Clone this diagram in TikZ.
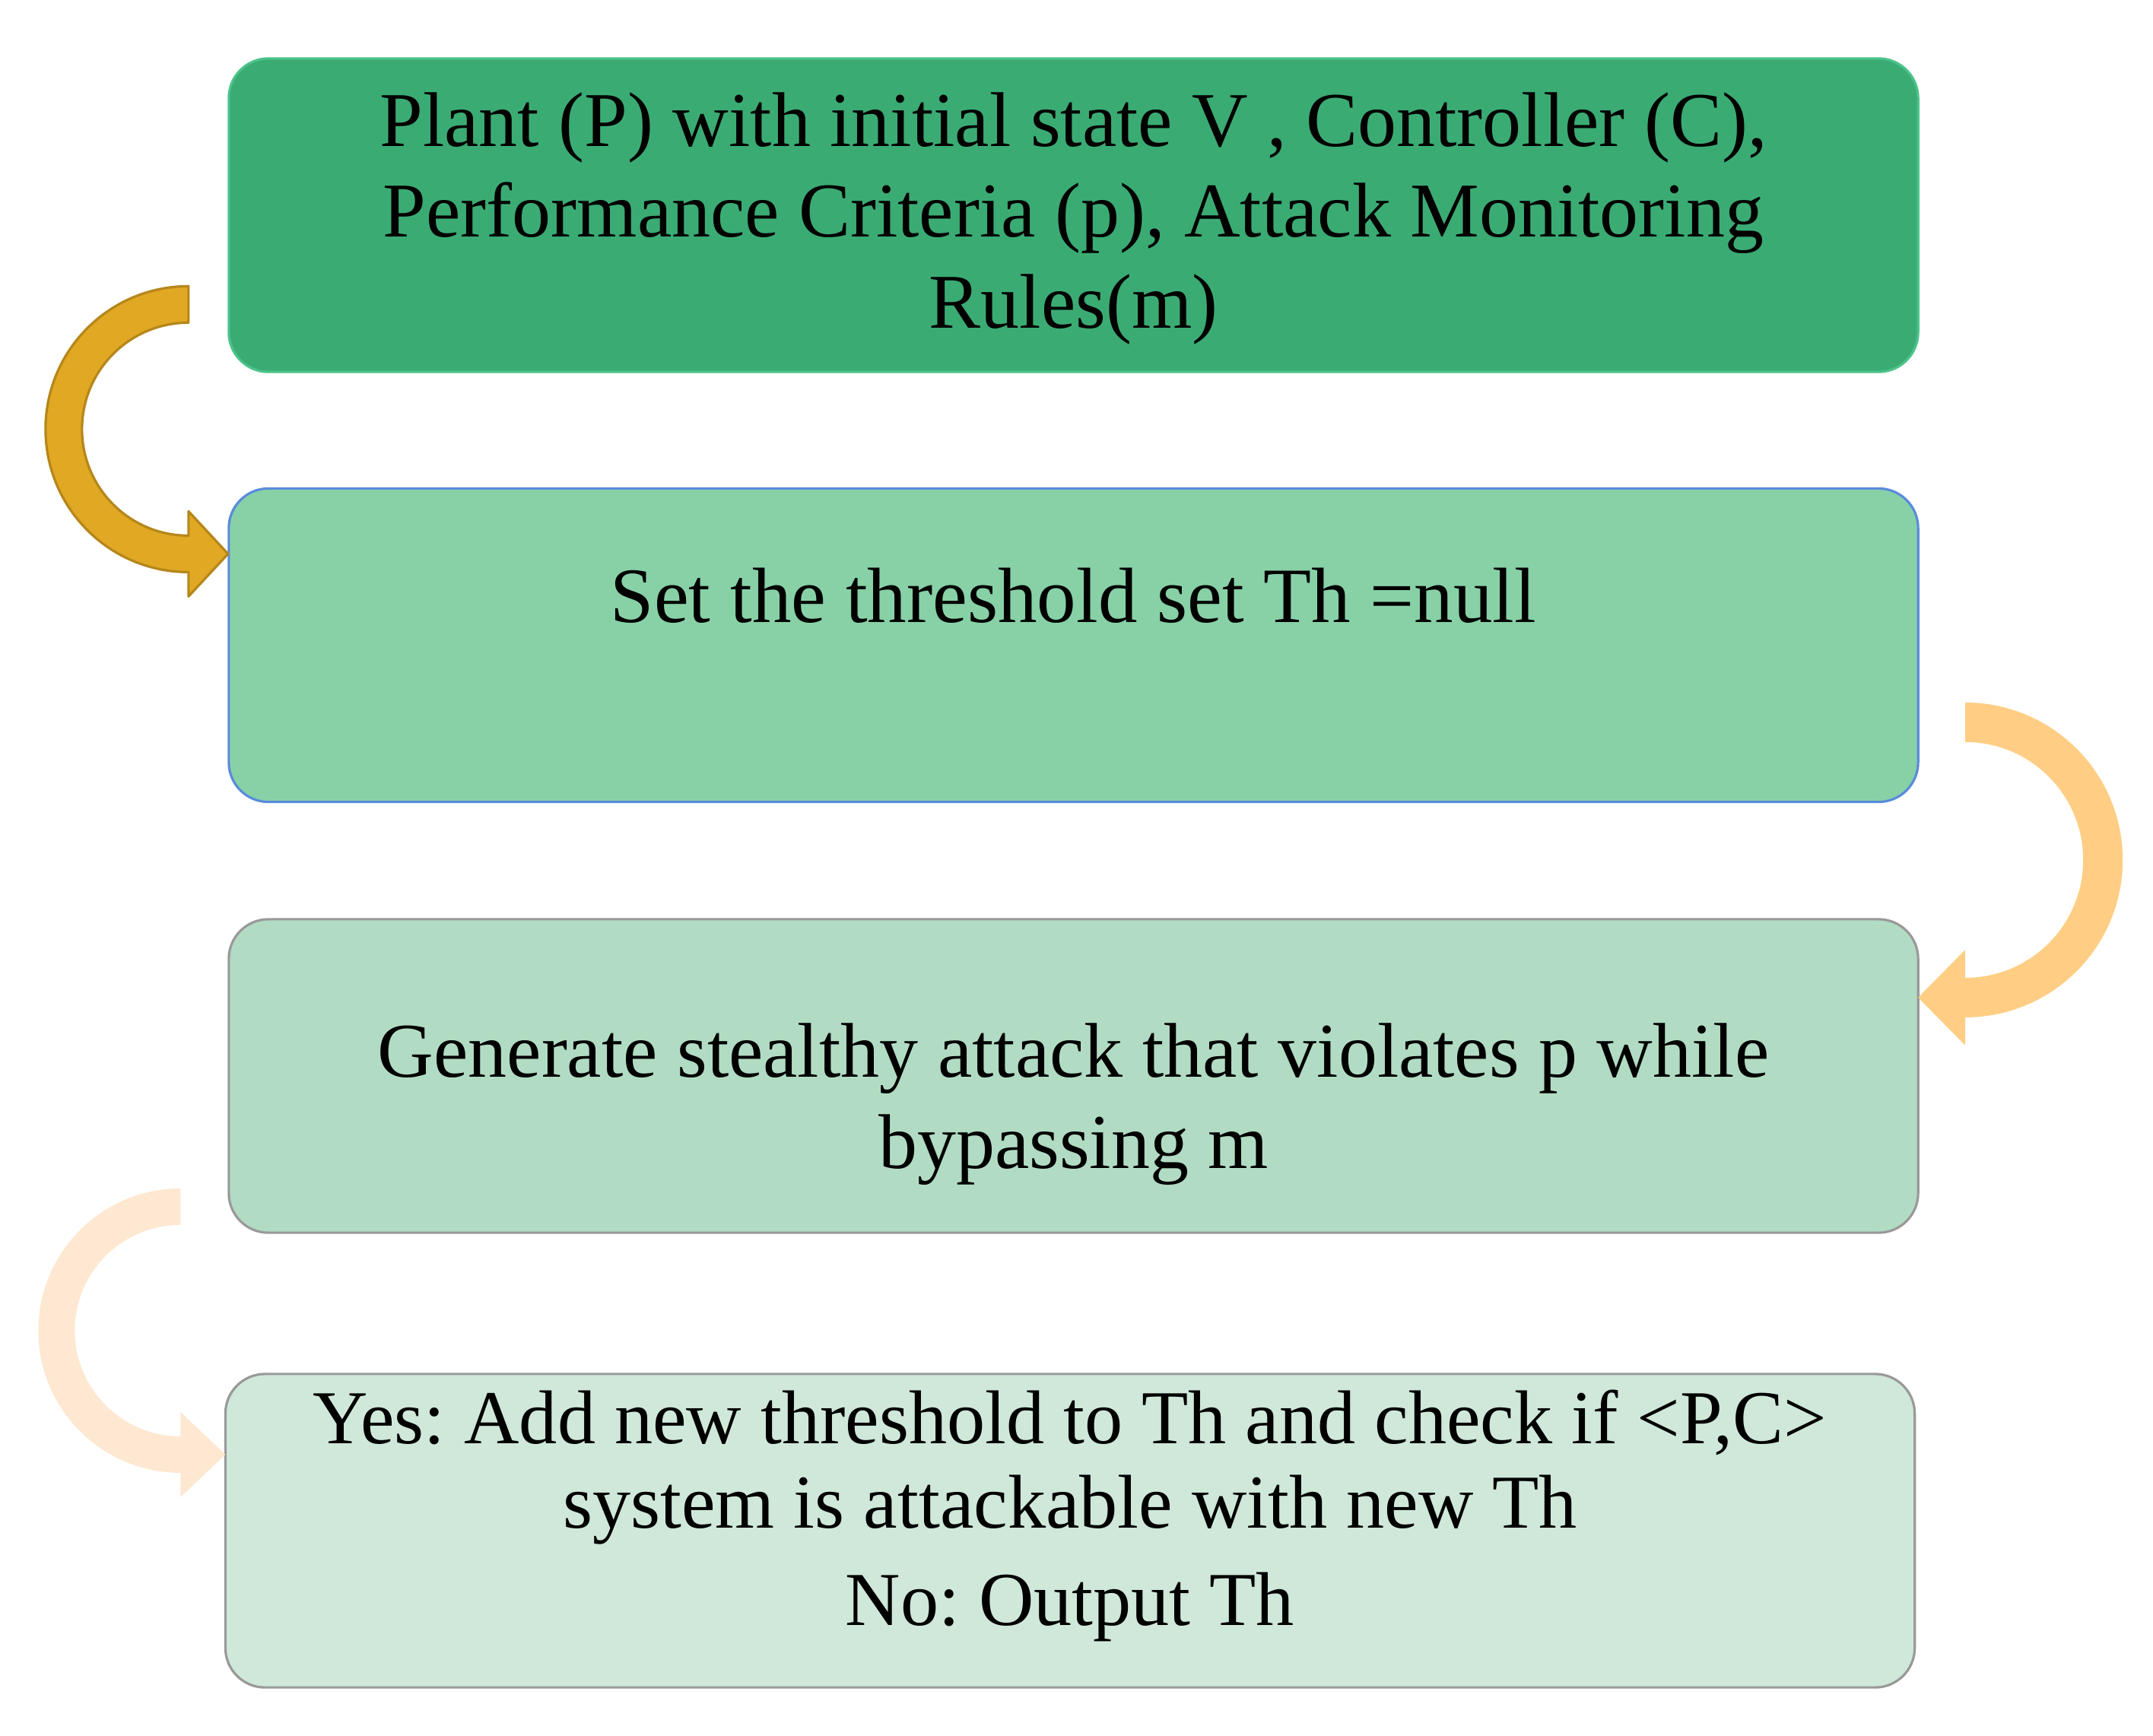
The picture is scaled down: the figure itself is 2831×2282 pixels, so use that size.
\documentclass[tikz,border=0pt]{standalone}
\usepackage{fontspec}
\setmainfont{Liberation Serif}
\usetikzlibrary{calc}
\frenchspacing
\definecolor{boxone}{HTML}{3BAB74}
\definecolor{boxoneline}{HTML}{4CC38A}
\definecolor{boxtwo}{HTML}{88D1A7}
\definecolor{boxtwoline}{HTML}{5A8BDB}
\definecolor{boxthree}{HTML}{B1DCC3}
\definecolor{boxfour}{HTML}{CFE8D9}
\definecolor{boxgrey}{HTML}{999999}
\definecolor{arrowone}{HTML}{E0A823}
\definecolor{arrowoneline}{HTML}{B5861A}
\definecolor{arrowtwo}{HTML}{FFCE84}
\definecolor{arrowthree}{HTML}{FEE8D1}
\begin{document}
\begin{tikzpicture}[x=0.01cm,y=-0.01cm,line join=round,
  box/.style={rounded corners=0.52cm,minimum width=22.2cm,minimum height=4.12cm,line width=0.9pt,inner sep=0pt,outer sep=0pt},
  txt/.style={align=center,anchor=base,inner sep=0pt,font=\fontsize{29}{34.1}\selectfont}]
  \useasboundingbox (0,0) rectangle (2831,2282);
  \node[box,fill=boxone,draw=boxoneline] (b1) at (1411.5,283) {};
  \node[box,fill=boxtwo,draw=boxtwoline] (b2) at (1411.5,848.5) {};
  \node[box,fill=boxthree,draw=boxgrey] (b3) at (1411.5,1415) {};
  \node[box,fill=boxfour,draw=boxgrey] (b4) at (1407,2013) {};
  % base of a multi-line node = its last line
  \node[txt] (t1) at ($(b1.north)+(0,355)$) {Plant (P) with initial state V , Controller (C),\\Performance Criteria (p), Attack Monitoring\\Rules(m)};
  \node[txt,font=\fontsize{29.3}{34.1}\selectfont] (t2) at ($(b2.north)+(0,176)$) {Set the threshold set Th =null};
  \node[txt] (t3) at ($(b3.north)+(0,328)$) {Generate stealthy attack that violates p while\\bypassing m};
  \node[txt,font=\fontsize{28.5}{34.1}\selectfont] (t4) at ($(b4.north)+(0,331)$) {Yes: Add new threshold to Th and check if <P,C>\\[-0.08cm]system is attackable with new Th\\[0.08cm]No: Output Th};
  % curved block arrows
  \coordinate (c1) at ($(b2.north west)+(-53,-78)$);
  \coordinate (c2) at ($(b3.north east)+(62,-78)$);
  \coordinate (c3) at ($(b4.north west)+(-59,-57)$);
  \filldraw[fill=arrowone,draw=arrowoneline,line width=0.9pt] ($(c1)+(0,-188)$) arc[start angle=270,end angle=90,radius=188]
    -- ($(c1)+(0,220)$) -- ($(c1)+(52,164)$) -- ($(c1)+(0,108)$) -- ($(c1)+(0,140)$)
    arc[start angle=90,end angle=270,radius=140] -- cycle;
  \fill[arrowtwo] ($(c2)+(0,-207)$) arc[start angle=-90,end angle=90,radius=207]
    -- ($(c2)+(0,244)$) -- ($(c2)+(-62,181)$) -- ($(c2)+(0,118)$) -- ($(c2)+(0,155)$)
    arc[start angle=90,end angle=-90,radius=155] -- cycle;
  \fill[arrowthree] ($(c3)+(0,-187)$) arc[start angle=270,end angle=90,radius=187]
    -- ($(c3)+(0,219)$) -- ($(c3)+(59,163)$) -- ($(c3)+(0,107)$) -- ($(c3)+(0,139)$)
    arc[start angle=90,end angle=270,radius=139] -- cycle;
\end{tikzpicture}
\end{document}
